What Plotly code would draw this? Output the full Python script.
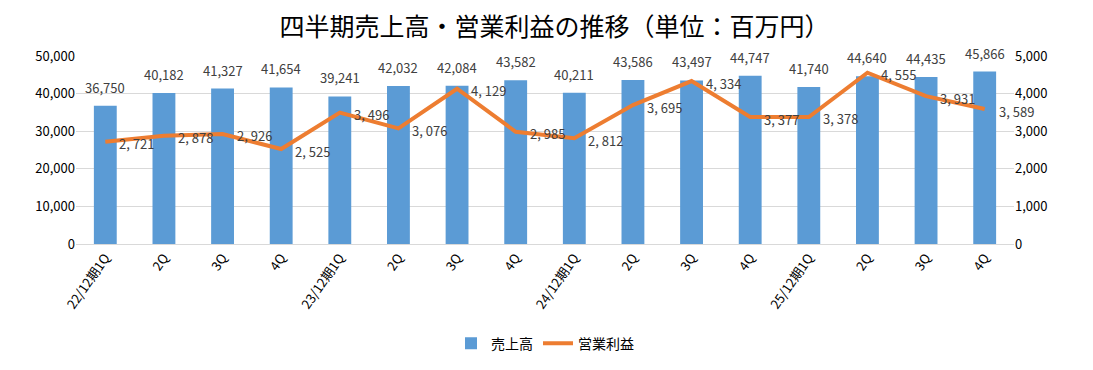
import plotly.graph_objects as go

tick_labels = ["22/12期1Q", "2Q", "3Q", "4Q", "23/12期1Q", "2Q", "3Q", "4Q",
               "24/12期1Q", "2Q", "3Q", "4Q", "25/12期1Q", "2Q", "3Q", "4Q"]
sales = [36750, 40182, 41327, 41654, 39241, 42032, 42084, 43582,
         40211, 43586, 43497, 44747, 41740, 44640, 44435, 45866]
op_income = [2721, 2878, 2926, 2525, 3496, 3076, 4129, 2985,
             2812, 3695, 4334, 3377, 3378, 4555, 3931, 3589]

x_pos = list(range(len(tick_labels)))

FONT = "Noto Sans CJK JP"
TXT = "#404040"

fig = go.Figure()
fig.add_trace(go.Bar(
    x=x_pos, y=sales, name="売上高",
    marker=dict(color="#5B9BD5", line=dict(width=0)),
))
fig.add_trace(go.Scatter(
    x=x_pos, y=op_income, name="営業利益", yaxis="y2",
    mode="lines", line=dict(color="#ED7D31", width=4),
))

annotations = []
for xi, v in zip(x_pos, sales):
    annotations.append(dict(x=xi, y=v, xref="x", yref="y", text=f"{v:,}",
                            showarrow=False, xanchor="center", yanchor="bottom", yshift=7,
                            font=dict(size=13, color=TXT, family=FONT)))
for xi, v in zip(x_pos, op_income):
    annotations.append(dict(x=xi, y=v, xref="x", yref="y2", text=f"{v:,}".replace(",", ", "),
                            showarrow=False, xanchor="left", yanchor="middle", xshift=12, yshift=-2,
                            font=dict(size=13, color=TXT, family=FONT)))

fig.update_layout(
    width=1093, height=370,
    margin=dict(l=68, r=87, t=48, b=134),
    paper_bgcolor="white", plot_bgcolor="white",
    font=dict(family=FONT, color=TXT, size=12),
    title=dict(text="四半期売上高・営業利益の推移（単位：百万円）", x=0.5, xanchor="center",
               y=0.948, yanchor="middle", automargin=False,
               font=dict(size=25, color="#000000", family=FONT)),
    bargap=0.61,
    showlegend=True,
    legend=dict(orientation="h", x=0.5, xanchor="center", y=-0.53, yanchor="middle",
                font=dict(size=14, color="#000000", family=FONT), traceorder="normal"),
    xaxis=dict(tickmode="array", tickvals=x_pos, ticktext=tick_labels, range=[-0.5, 15.5],
               tickangle=-55, tickfont=dict(size=13, color="#000000"), automargin=False,
               showgrid=False, showline=True, linecolor="#D9D9D9", ticks="", zeroline=False),
    yaxis=dict(range=[0, 50000], dtick=10000, tickformat=",d", gridcolor="#D9D9D9",
               tickfont=dict(size=13, color="#000000"), zeroline=False, automargin=False),
    yaxis2=dict(range=[0, 5000], dtick=1000, tickformat=",d", overlaying="y", side="right",
                showgrid=False, tickfont=dict(size=13, color="#000000"), zeroline=False,
                automargin=False),
    annotations=annotations,
)

fig.write_html("out.html")
